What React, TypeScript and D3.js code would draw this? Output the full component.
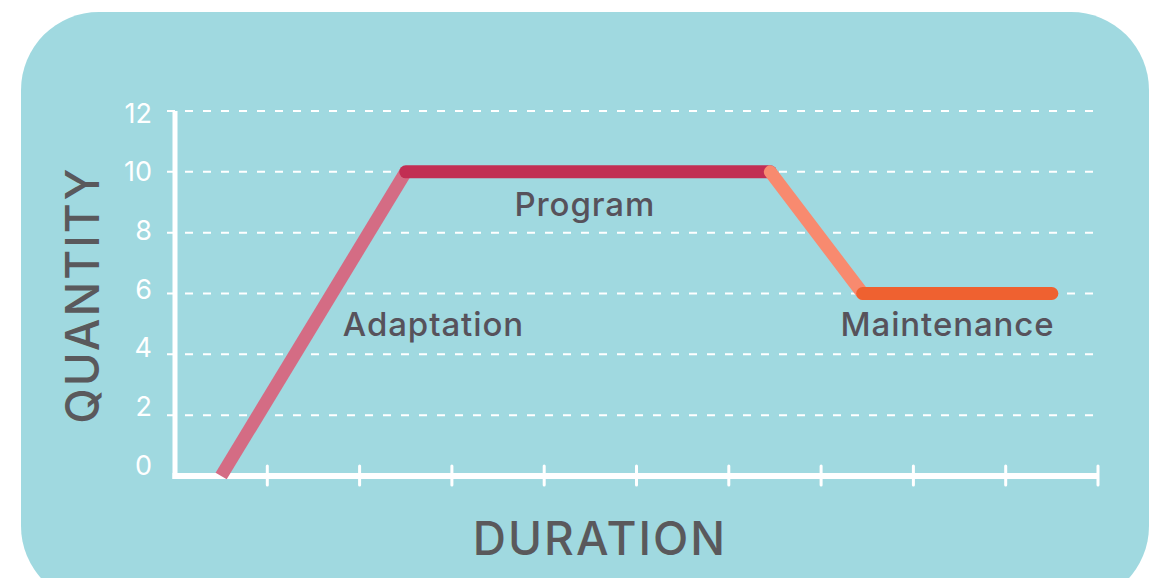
import React from "react";
import * as d3 from "d3";

const yTicks = [0, 2, 4, 6, 8, 10, 12];
const xTicks = [0, 1, 2, 3, 4, 5, 6, 7, 8, 9, 10];
const phaseNames = ["Adaptation", "Program", "Transition", "Maintenance"];
const phaseX = [[0.5, 2.5], [2.5, 6.45], [6.45, 7.45], [7.45, 9.5]];
const phaseY = [[0, 10], [10, 10], [10, 6], [6, 6]];
const phaseColors = ["#D46C84", "#C22E53", "#F88A6F", "#EF6130"];
const labels = [
  { text: "Adaptation", x: 2.8, y: 4.6 },
  { text: "Program", x: 4.44, y: 8.55 },
  { text: "Maintenance", x: 8.37, y: 4.6 },
];

const W = 1159;
const H = 578;

export default function App() {
  const x = d3.scaleLinear().domain([0, 10]).range([175, 1098]);
  const y = d3.scaleLinear().domain([0, 12]).range([476, 111]);
  const yLab = d3.scaleLinear().domain([0, 12]).range([465, 113]);
  const line = d3.line<[number, number]>().x((d) => x(d[0])).y((d) => y(d[1]));
  const font = "Inter, 'Open Sans', sans-serif";
  const textColor = "#57525B";
  return (
    <svg width={W} height={H} style={{ position: "absolute", left: 0, top: 0 }}>
      <rect x={0} y={0} width={W} height={H} fill="#ffffff" />
      <rect x={21} y={12} width={1128} height={592} rx={78} ry={78} fill="#A0D9E0" />
      {yTicks.filter((t) => t > 0).map((t) => (
        <line key={"g" + t} x1={167} x2={1098} y1={y(t)} y2={y(t)} stroke="#ffffff" strokeWidth={2} strokeDasharray="8 10" />
      ))}
      {yTicks.map((t) => (
        <text key={"yl" + t} x={152} y={yLab(t)} dy="0.36em" textAnchor="end" fill="#ffffff" fontFamily={font} fontSize={27} fontWeight={400}>
          {t}
        </text>
      ))}
      <line x1={x(0)} x2={x(0)} y1={y(12)} y2={y(0) + 3} stroke="#ffffff" strokeWidth={5} />
      <line x1={x(0) - 2.5} x2={x(10)} y1={y(0)} y2={y(0)} stroke="#ffffff" strokeWidth={6} />
      {xTicks.filter((t) => t > 0).map((t) => (
        <line key={"xt" + t} x1={x(t)} x2={x(t)} y1={y(0) - 10} y2={y(0) + 9} stroke="#ffffff" strokeWidth={3} strokeLinecap="round" />
      ))}
      {phaseNames.map((n, i) => (
        <path
          key={n}
          d={line([[phaseX[i][0], phaseY[i][0]], [phaseX[i][1], phaseY[i][1]]]) || ""}
          stroke={phaseColors[i]}
          strokeWidth={13}
          strokeLinecap={i === 0 ? "butt" : "round"}
          fill="none"
        />
      ))}
      {labels.map((l) => (
        <text key={l.text} x={x(l.x)} y={y(l.y)} textAnchor="middle" fill={textColor} fontFamily={font} fontSize={33} fontWeight={500} letterSpacing={0.9}>
          {l.text}
        </text>
      ))}
      <text x={600} y={555} textAnchor="middle" fill="#5A595C" fontFamily={font} fontSize={46} fontWeight={500} letterSpacing={2}>
        DURATION
      </text>
      <text
        transform={`translate(99, 295) rotate(-90)`}
        textAnchor="middle"
        fill="#5A595C"
        fontFamily={font}
        fontSize={46}
        fontWeight={500}
        letterSpacing={2}
      >
        QUANTITY
      </text>
    </svg>
  );
}
